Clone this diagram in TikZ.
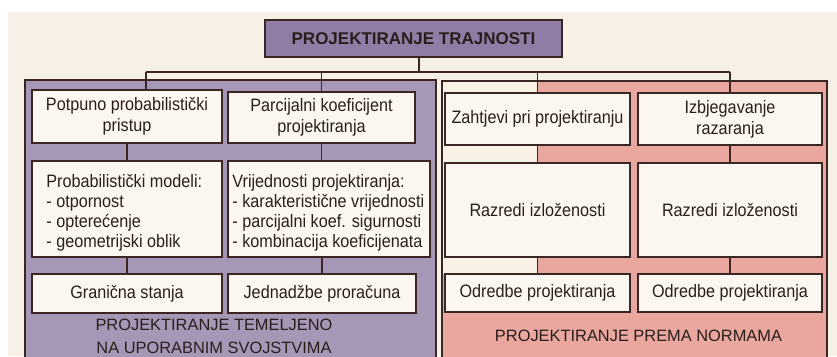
\documentclass[tikz,border=0pt]{standalone}
\usepackage{fontspec}
\setmainfont{Liberation Sans}
\newfontfamily\cellfont[FakeStretch=0.9]{Liberation Sans}
\definecolor{bgc}{HTML}{F7F0E6}
\definecolor{purp}{HTML}{A797B7}
\definecolor{purpd}{HTML}{8F7DA5}
\definecolor{pinkc}{HTML}{E9A7A0}
\definecolor{cellc}{HTML}{FBF7F0}
\definecolor{creamc}{HTML}{F8F1E6}
\definecolor{linec}{HTML}{3A2622}
\definecolor{txtc}{HTML}{2A1E1C}
\tikzset{
  cell/.style={draw=linec, fill=cellc, line width=1.6pt, inner sep=0pt, align=center, text=txtc,
    font=\cellfont\fontsize{18}{21}\selectfont},
  panel/.style={draw=linec, line width=1.6pt},
  conn/.style={draw=linec, line width=1.6pt},
  itxt/.style={anchor=west, align=left, inner sep=0pt, text=txtc, font=\cellfont\fontsize{18}{20}\selectfont},
  plabel/.style={align=center, inner sep=0pt, text=txtc, font=\fontsize{16.4}{23}\selectfont}
}
\begin{document}
\begin{tikzpicture}[x=1pt,y=-1pt]
\useasboundingbox (0,0) rectangle (837,356);
\clip (0,0) rectangle (837,356);
\fill[white] (0,0) rectangle (837,356);
\fill[bgc] (8,12) rectangle (837,356);
% panels
\path[panel, fill=purp] (25,80) rectangle (436,370);
\path[panel, fill=pinkc] (442,81) rectangle (827,370);
\fill[creamc] (443,82) rectangle (537,274);
% title
\node[cell, fill=purpd, minimum width=297pt, minimum height=37pt, font=\bfseries\fontsize{17}{18}\selectfont] (title) at (413.5,38.5) {PROJEKTIRANJE TRAJNOSTI};
% left cells
\node[cell, minimum width=190pt, minimum height=53pt] (a1) at (127,116.5) {Potpuno probabilistički\\pristup};
\node[cell, minimum width=187pt, minimum height=51pt] (b1) at (321.5,117.5) {Parcijalni koeficijent\\projektiranja};
\node[cell, minimum width=190pt, minimum height=96pt] (a2) at (127,209) {};
\node[cell, minimum width=202pt, minimum height=96pt] (b2) at (329,209) {};
\node[cell, minimum width=190pt, minimum height=39pt] (a3) at (127,293.5) {Granična stanja};
\node[cell, minimum width=188pt, minimum height=39pt] (b3) at (322,293.5) {Jednadžbe proračuna};
\node[itxt] (a2t) at ([xshift=15pt,yshift=-4pt]a2.west) {Probabilistički modeli:\\- otpornost\\- opterećenje\\- geometrijski oblik};
\node[itxt] (b2t) at ([xshift=5pt,yshift=-4pt]b2.west) {Vrijednosti projektiranja:\\- karakteristične vrijednosti\\- parcijalni koef. sigurnosti\\- kombinacija koeficijenata};
% right cells
\node[cell, minimum width=185pt, minimum height=52pt] (c1) at (537.5,119) {Zahtjevi pri projektiranju};
\node[cell, minimum width=184pt, minimum height=52pt] (d1) at (730,119) {Izbjegavanje\\razaranja};
\node[cell, minimum width=185pt, minimum height=94pt] (c2) at (537.5,210) {Razredi izloženosti};
\node[cell, minimum width=184pt, minimum height=94pt] (d2) at (730,210) {Razredi izloženosti};
\node[cell, minimum width=185pt, minimum height=38pt] (c3) at (537.5,293) {Odredbe projektiranja};
\node[cell, minimum width=184pt, minimum height=38pt] (d3) at (730,293) {Odredbe projektiranja};
% panel labels
\node[plabel] (lp) at (214,336.5) {PROJEKTIRANJE TEMELJENO\\NA UPORABNIM SVOJSTVIMA};
\node[plabel] (rp) at (638.5,336) {PROJEKTIRANJE PREMA NORMAMA};
% connectors
\coordinate (busA) at (146,72);
\coordinate (tdrop) at (419,72);
\draw[conn] (tdrop |- title.south) -- (tdrop);
\draw[conn] (busA) -- (busA -| d1.north);
\draw[conn] (busA) -- (busA |- a1.north);
\draw[conn] (b1.north |- busA) -- (b1.north);
\draw[conn] (c1.north |- busA) -- (c1.north);
\draw[conn] (d1.north |- busA) -- (d1.north);
\draw[conn] (a1.south) -- (a2.north);
\draw[conn] (b1.south) -- (b1.south |- b2.north);
\draw[conn] (a2.south) -- (a3.north);
\draw[conn] (b3.north |- b2.south) -- (b3.north);
\draw[conn] (c1.south) -- (c2.north);
\draw[conn] (d1.south) -- (d2.north);
\draw[conn] (c2.south) -- (c3.north);
\draw[conn] (d2.south) -- (d3.north);
\end{tikzpicture}
\end{document}
